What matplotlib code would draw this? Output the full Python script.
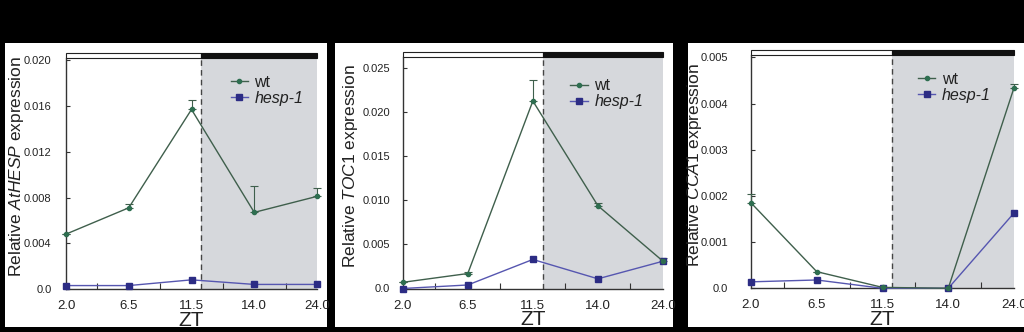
import matplotlib
matplotlib.use("Agg")
import matplotlib.pyplot as plt
from matplotlib.patches import Rectangle
from matplotlib import font_manager as fm
import numpy as np

names = {f.name for f in fm.fontManager.ttflist}
FONT = "Liberation Sans Narrow" if "Liberation Sans Narrow" in names else "Liberation Sans"
plt.rcParams["font.family"] = [FONT, "DejaVu Sans"]
plt.rcParams["mathtext.fontset"] = "custom"
plt.rcParams["mathtext.rm"] = FONT
plt.rcParams["mathtext.it"] = FONT + ":italic"

# ---- data ----
zt_labels = ["2.0", "6.5", "11.5", "14.0", "24.0"]

hesp_wt = [0.0048, 0.0071, 0.0157, 0.0067, 0.0081]
hesp_wt_err = [0.0, 0.0003, 0.0008, 0.0023, 0.0007]
hesp_mut = [0.0003, 0.0003, 0.0008, 0.0004, 0.0004]

toc1_wt = [0.0007, 0.0017, 0.0213, 0.0094, 0.0031]
toc1_wt_err = [0.0, 0.0002, 0.0024, 0.0003, 0.0004]
toc1_mut = [0.0, 0.0004, 0.0033, 0.0011, 0.0031]

cca1_wt = [0.00185, 0.00036, 0.00002, 0.0, 0.00434]
cca1_wt_err = [0.0002, 0.0, 0.0, 0.0, 0.00008]
cca1_mut = [0.00014, 0.00018, 0.0, 0.0, 0.00163]

panels = [
    dict(wt=hesp_wt, err=hesp_wt_err, mut=hesp_mut, gene="AtHESP",
         ylim=0.0202, ticks=[0.0, 0.004, 0.008, 0.012, 0.016, 0.020],
         fmt=["0.0", "0.004", "0.008", "0.012", "0.016", "0.020"],
         rect=(66, 317, 58, 289), panel=(5, 327), pad=10.5, lab_x=26.5, leg=(0.63, 0.955)),
    dict(wt=toc1_wt, err=toc1_wt_err, mut=toc1_mut, gene="TOC1",
         ylim=0.0263, ticks=[0.0, 0.005, 0.010, 0.015, 0.020, 0.025],
         fmt=["0.0", "0.005", "0.010", "0.015", "0.020", "0.025"],
         rect=(402.7, 663, 57, 288.5), panel=(335, 673), pad=9, lab_x=360, leg=(0.62, 0.935)),
    dict(wt=cca1_wt, err=cca1_wt_err, mut=cca1_mut, gene="CCA1",
         ylim=0.00505, ticks=[0.0, 0.001, 0.002, 0.003, 0.004, 0.005],
         fmt=["0.0", "0.001", "0.002", "0.003", "0.004", "0.005"],
         rect=(751, 1014, 55, 288.3), panel=(688, 1024), pad=16.5, lab_x=704, leg=(0.61, 0.955)),
]

W, H = 1024, 332
fig = plt.figure(figsize=(W / 100, H / 100), dpi=100, facecolor="black")

WT_LINE = "#3f5f4c"
WT_MK = "#2e6e50"
MUT_LINE = "#5656b0"
MUT_MK = "#2c2c84"
SHADE = "#d6d8dc"
SPINE = "#333333"
TXT = "#222222"
DASH_X = 2.15

for p in panels:
    px0, px1 = p["panel"]
    fig.patches.append(Rectangle((px0 / W, 5 / H), (px1 - px0) / W, (327 - 43) / H,
                                 transform=fig.transFigure, facecolor="white",
                                 edgecolor="none", zorder=-5))
    l, r, t, b = p["rect"]
    ax = fig.add_axes([l / W, (H - b) / H, (r - l) / W, (b - t) / H])
    ax.set_facecolor("white")
    x = np.arange(len(zt_labels))
    ax.set_xlim(0, len(zt_labels) - 1)
    ax.set_ylim(0, p["ylim"])

    ax.axvspan(DASH_X, len(zt_labels) - 1, color=SHADE, zorder=0, lw=0)
    ax.axvline(DASH_X, color="#444444", lw=1.0, ls=(0, (4, 3)), zorder=1)

    # light/dark bar above plot
    hbar = 5 / (b - t)
    trans = ax.get_xaxis_transform()
    ax.add_patch(Rectangle((0, 1.0), DASH_X, hbar, transform=trans, facecolor="white",
                           edgecolor="#222222", lw=0.8, clip_on=False, zorder=3))
    ax.add_patch(Rectangle((DASH_X, 1.0), len(zt_labels) - 1 - DASH_X, hbar, transform=trans,
                           facecolor="#111111", edgecolor="#111111", lw=0.8, clip_on=False, zorder=3))

    err = np.array(p["err"])
    ax.errorbar(x, p["wt"], yerr=[np.zeros_like(err), err], fmt="none", ecolor=WT_LINE,
                elinewidth=0.8, capsize=3, capthick=0.8, zorder=4, clip_on=False)
    mut_line, = ax.plot(x, p["mut"], color=MUT_LINE, lw=1.0, marker="s", ms=4.5, mfc=MUT_MK,
                        mec=MUT_MK, zorder=5, clip_on=False)
    wt_line, = ax.plot(x, p["wt"], color=WT_LINE, lw=1.0, marker="o", ms=3, mfc=WT_MK,
                       mec=WT_MK, zorder=6, clip_on=False)

    leg = ax.legend([wt_line, mut_line], ["wt", "hesp-1"],
                    loc="upper left", bbox_to_anchor=p["leg"], frameon=False,
                    handlelength=1.1, handletextpad=0.4, labelspacing=0.05,
                    fontsize=11.5, borderaxespad=0)
    leg.get_texts()[1].set_fontstyle("italic")
    for tx in leg.get_texts():
        tx.set_color(TXT)

    for s in ["top", "right"]:
        ax.spines[s].set_visible(False)
    for s in ["left", "bottom"]:
        ax.spines[s].set_color(SPINE)
        ax.spines[s].set_linewidth(1.0)

    ax.set_xticks(x)
    ax.set_xticklabels(zt_labels)
    ax.set_xticks(x[:-1] + 0.5, minor=True)
    ax.tick_params(axis="x", which="major", length=0, pad=8, labelsize=9.5, colors=TXT)
    ax.tick_params(axis="x", which="minor", direction="in", length=4, width=0.8, color=SPINE)
    ax.set_yticks(p["ticks"])
    ax.set_yticklabels(p["fmt"])
    ax.tick_params(axis="y", which="major", direction="in", length=3, width=0.8,
                   color=SPINE, pad=p["pad"], labelsize=8, labelcolor=TXT)

    # ylabel keeps va='bottom' (right edge of rotated text sits at lab_x)
    ax.set_ylabel("Relative $\\mathit{" + p["gene"] + "}$ expression", fontsize=12.5,
                  color=TXT)
    ax.yaxis.set_label_coords((p["lab_x"] - l) / (r - l), 0.53)
    ax.set_xlabel("ZT", fontsize=15, color=TXT, va="center")
    ax.xaxis.set_label_coords(0.5, -31 / (b - t))

fig.savefig("out.png", dpi=100, facecolor="black")
